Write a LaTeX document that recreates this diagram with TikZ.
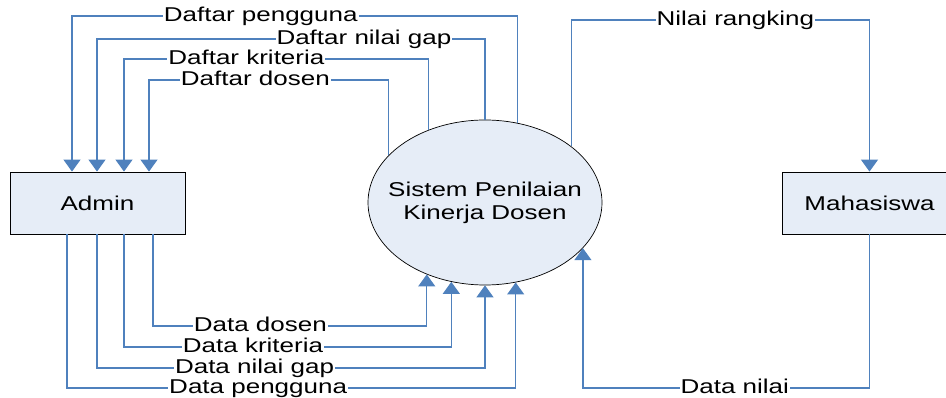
\documentclass[tikz,border=0pt]{standalone}
\usepackage{fontspec}
\setmainfont{Liberation Sans}[FakeStretch=1.3]
\usepackage{xcolor}
\usepackage{tikz}
\usetikzlibrary{shapes,arrows.meta,positioning,calc}
\definecolor{flowblue}{RGB}{79,129,189}
\definecolor{boxfill}{RGB}{230,237,247}

\begin{document}
\begin{tikzpicture}[
    x=1pt, y=-1pt,
    font={\fontsize{20}{23}\selectfont},
    entity/.style={rectangle, draw, line width=0.8pt, fill=boxfill, minimum width=175pt, minimum height=62pt, inner sep=0pt},
    proc/.style={ellipse, draw, line width=0.7pt, fill=boxfill, minimum width=234pt, minimum height=165pt, inner sep=0pt},
    flow/.style={->, >={Triangle[width=17pt,length=12pt]}, draw=flowblue, line width=1.2pt},
    lbl/.style={fill=white, inner xsep=1pt, inner ysep=0pt, text height=14pt, text depth=3pt}
]
    \useasboundingbox (0,0) rectangle (946,398);

    \node[entity] (admin) at (97.5,203) {Admin};
    \node[entity] (maha) at (869.5,203) {Mahasiswa};
    \node[proc] (sys) at (485,202.5) {};
    \node[align=center] (systext) at (sys.center) {Sistem Penilaian\\Kinerja Dosen};

    % output to admin
    \draw[flow] (sys.68.05) |- node[lbl, pos=0.788] (dpengguna) {Daftar pengguna} (72,16) -- (admin.north -| 72,0);
    \draw[flow] (sys.north) |- node[lbl, pos=0.656] (dnilaigap) {Daftar nilai gap} (97,39) -- (admin.north -| 97,0);
    \draw[flow] (sys.128.35) |- node[lbl, pos=0.799] (dkriteria) {Daftar kriteria} (124,59) -- (admin.north -| 124,0);
    \draw[flow] (sys.154.58) |- node[lbl, pos=0.778] (ddosen) {Daftar dosen} (149,80) -- (admin.north -| 149,0);

    % input from admin
    \draw[flow] (admin.south -| 153,0) |- node[lbl, pos=0.696] (adosen) {Data dosen} (sys.231.65 |- 0,326) -- (sys.231.65);
    \draw[flow] (admin.south -| 124,0) |- node[lbl, pos=0.697] (akriteria) {Data kriteria} (sys.247.36 |- 0,347) -- (sys.247.36);
    \draw[flow] (admin.south -| 97,0) |- node[lbl, pos=0.703] (anilaigap) {Data nilai gap} (sys.south |- 0,368) -- (sys.south);
    \draw[flow] (admin.south -| 67,0) |- node[lbl, pos=0.713] (apengguna) {Data pengguna} (sys.291.95 |- 0,388) -- (sys.291.95);

    % mahasiswa
    \draw[flow] (sys.33.03) |- node[lbl, pos=0.775] (nrangking) {Nilai rangking} (maha.north |- 0,20) -- (maha.north);
    \draw[flow] (maha.south) |- node[lbl, pos=0.735] (dnilai) {Data nilai} (sys.335.3 |- 0,388) -- (sys.335.3);
\end{tikzpicture}
\end{document}
